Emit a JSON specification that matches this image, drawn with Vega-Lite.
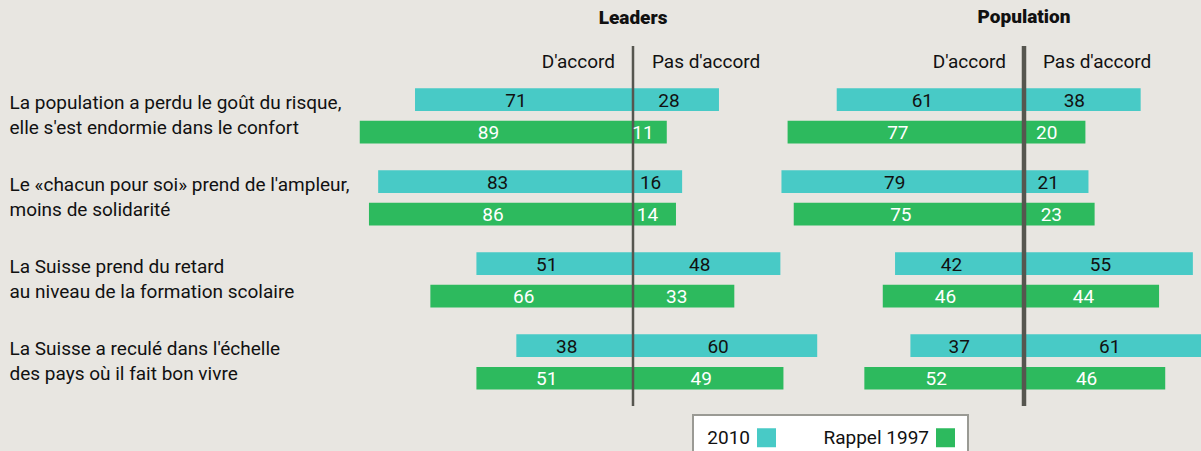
{
  "$schema": "https://vega.github.io/schema/vega-lite/v6.json",
  "background": "#e8e6e1",
  "padding": {"left": 9, "top": 7, "right": 0, "bottom": 0},
  "bounds": "flush",
  "data": {
    "values": [
      {"panel": "Leaders", "question": "La population a perdu le goût du risque,\nelle s'est endormie dans le confort", "serie": "2010", "accord": 71, "pas": 28},
      {"panel": "Leaders", "question": "La population a perdu le goût du risque,\nelle s'est endormie dans le confort", "serie": "Rappel 1997", "accord": 89, "pas": 11},
      {"panel": "Leaders", "question": "Le «chacun pour soi» prend de l'ampleur,\nmoins de solidarité", "serie": "2010", "accord": 83, "pas": 16},
      {"panel": "Leaders", "question": "Le «chacun pour soi» prend de l'ampleur,\nmoins de solidarité", "serie": "Rappel 1997", "accord": 86, "pas": 14},
      {"panel": "Leaders", "question": "La Suisse prend du retard\nau niveau de la formation scolaire", "serie": "2010", "accord": 51, "pas": 48},
      {"panel": "Leaders", "question": "La Suisse prend du retard\nau niveau de la formation scolaire", "serie": "Rappel 1997", "accord": 66, "pas": 33},
      {"panel": "Leaders", "question": "La Suisse a reculé dans l'échelle\ndes pays où il fait bon vivre", "serie": "2010", "accord": 38, "pas": 60},
      {"panel": "Leaders", "question": "La Suisse a reculé dans l'échelle\ndes pays où il fait bon vivre", "serie": "Rappel 1997", "accord": 51, "pas": 49},
      {"panel": "Population", "question": "La population a perdu le goût du risque,\nelle s'est endormie dans le confort", "serie": "2010", "accord": 61, "pas": 38},
      {"panel": "Population", "question": "La population a perdu le goût du risque,\nelle s'est endormie dans le confort", "serie": "Rappel 1997", "accord": 77, "pas": 20},
      {"panel": "Population", "question": "Le «chacun pour soi» prend de l'ampleur,\nmoins de solidarité", "serie": "2010", "accord": 79, "pas": 21},
      {"panel": "Population", "question": "Le «chacun pour soi» prend de l'ampleur,\nmoins de solidarité", "serie": "Rappel 1997", "accord": 75, "pas": 23},
      {"panel": "Population", "question": "La Suisse prend du retard\nau niveau de la formation scolaire", "serie": "2010", "accord": 42, "pas": 55},
      {"panel": "Population", "question": "La Suisse prend du retard\nau niveau de la formation scolaire", "serie": "Rappel 1997", "accord": 46, "pas": 44},
      {"panel": "Population", "question": "La Suisse a reculé dans l'échelle\ndes pays où il fait bon vivre", "serie": "2010", "accord": 37, "pas": 61},
      {"panel": "Population", "question": "La Suisse a reculé dans l'échelle\ndes pays où il fait bon vivre", "serie": "Rappel 1997", "accord": 52, "pas": 46}
    ]
  },
  "spacing": 41,
  "hconcat": [
    {
      "width": 350,
      "height": 360,
      "title": {"text": "Leaders", "frame": "group", "anchor": "middle", "baseline": "alphabetic", "offset": 2, "font": "Roboto", "fontSize": 19, "fontWeight": 900, "color": "#111111"},
      "transform": [{"filter": "datum.panel === 'Leaders'"}],
      "layer": [
        {
          "mark": {"type": "bar"},
          "encoding": {
            "y": {"field": "question", "type": "nominal", "sort": null, "scale": {"paddingInner": 0.326, "paddingOuter": 0.358, "align": 0.72},
                  "axis": {"title": null, "orient": "left", "ticks": false, "domain": false, "labelAlign": "left", "labelBaseline": "middle", "labelPadding": 449, "labelOffset": -12.5, "labelLimit": 500, "labelFont": "Roboto", "labelFontSize": 19, "labelColor": "#111111", "labelLineHeight": 25, "labelExpr": "split(datum.label, '\\n')"}},
            "yOffset": {"field": "serie", "type": "nominal", "scale": {"paddingInner": 0.304, "paddingOuter": 0}},
            "x": {"field": "accord", "type": "quantitative", "stack": "zero", "scale": {"domain": [-57, 57], "reverse": true}, "axis": null},
            "color": {"field": "serie", "type": "nominal", "scale": {"domain": ["2010", "Rappel 1997"], "range": ["#48cac6", "#2dba5e"]},
                      "legend": {"title": null, "orient": "none", "legendX": 235, "legendY": 369, "direction": "horizontal", "symbolType": "square", "symbolSize": 361, "symbolStrokeWidth": 0, "symbolOpacity": 1, "symbolOffset": 51, "labelAlign": "right", "labelOffset": -26, "labelFont": "Roboto", "labelFontSize": 19, "labelColor": "#111111", "columnPadding": 47, "padding": 13, "fillColor": "#ffffff", "strokeColor": "#9a9a94"}}
          }
        },
        {
          "mark": {"type": "bar"},
          "encoding": {
            "y": {"field": "question", "type": "nominal", "sort": null, "scale": {"paddingInner": 0.326, "paddingOuter": 0.358, "align": 0.72},
                  "axis": {"title": null, "orient": "left", "ticks": false, "domain": false, "labelAlign": "left", "labelBaseline": "middle", "labelPadding": 449, "labelOffset": -12.5, "labelLimit": 500, "labelFont": "Roboto", "labelFontSize": 19, "labelColor": "#111111", "labelLineHeight": 25, "labelExpr": "split(datum.label, '\\n')"}},
            "yOffset": {"field": "serie", "type": "nominal", "scale": {"paddingInner": 0.304, "paddingOuter": 0}},
            "x": {"field": "pas", "type": "quantitative", "stack": "zero", "scale": {"domain": [-57, 57]}, "axis": null},
            "color": {"field": "serie", "type": "nominal", "scale": {"domain": ["2010", "Rappel 1997"], "range": ["#48cac6", "#2dba5e"]}}
          }
        },
        {
          "data": {"values": [{}]},
          "mark": {"type": "rule", "color": "#56564f", "strokeWidth": 2.5},
          "encoding": {
            "x": {"datum": 0, "type": "quantitative", "scale": {"domain": [-57, 57]},
                  "axis": {"orient": "top", "values": [-6, 6], "title": null, "ticks": false, "domain": false, "grid": false, "labelPadding": -21, "labelBaseline": "alphabetic", "labelFont": "Roboto", "labelFontSize": 19, "labelColor": "#111111",
                           "labelExpr": "datum.value < 0 ? \"D'accord\" : \"Pas d'accord\"",
                           "labelAlign": {"condition": {"test": "datum.value < 0", "value": "right"}, "value": "left"}}}
          }
        },
        {
          "mark": {"type": "text", "font": "Roboto", "fontSize": 19, "baseline": "middle", "dy": 1, "dx": -8},
          "encoding": {
            "y": {"field": "question", "type": "nominal", "sort": null, "scale": {"paddingInner": 0.326, "paddingOuter": 0.358, "align": 0.72},
                  "axis": {"title": null, "orient": "left", "ticks": false, "domain": false, "labelAlign": "left", "labelBaseline": "middle", "labelPadding": 449, "labelOffset": -12.5, "labelLimit": 500, "labelFont": "Roboto", "labelFontSize": 19, "labelColor": "#111111", "labelLineHeight": 25, "labelExpr": "split(datum.label, '\\n')"}},
            "yOffset": {"field": "serie", "type": "nominal", "scale": {"paddingInner": 0.304, "paddingOuter": 0}},
            "x": {"field": "accord", "type": "quantitative", "stack": "zero", "bandPosition": 0.5, "scale": {"domain": [-57, 57], "reverse": true}, "axis": null},
            "text": {"field": "accord", "type": "quantitative"},
            "color": {"condition": {"test": "datum.serie === '2010'", "value": "#111111"}, "value": "#ffffff"}
          }
        },
        {
          "mark": {"type": "text", "font": "Roboto", "fontSize": 19, "baseline": "middle", "dy": 1, "dx": -7},
          "encoding": {
            "y": {"field": "question", "type": "nominal", "sort": null, "scale": {"paddingInner": 0.326, "paddingOuter": 0.358, "align": 0.72},
                  "axis": {"title": null, "orient": "left", "ticks": false, "domain": false, "labelAlign": "left", "labelBaseline": "middle", "labelPadding": 449, "labelOffset": -12.5, "labelLimit": 500, "labelFont": "Roboto", "labelFontSize": 19, "labelColor": "#111111", "labelLineHeight": 25, "labelExpr": "split(datum.label, '\\n')"}},
            "yOffset": {"field": "serie", "type": "nominal", "scale": {"paddingInner": 0.304, "paddingOuter": 0}},
            "x": {"field": "pas", "type": "quantitative", "stack": "zero", "bandPosition": 0.5, "scale": {"domain": [-57, 57]}, "axis": null},
            "text": {"field": "pas", "type": "quantitative"},
            "color": {"condition": {"test": "datum.serie === '2010'", "value": "#111111"}, "value": "#ffffff"}
          }
        }
      ],
      "resolve": {"scale": {"x": "independent"}}
    },
    {
      "width": 350,
      "height": 360,
      "title": {"text": "Population", "frame": "group", "anchor": "middle", "baseline": "alphabetic", "offset": 2, "font": "Roboto", "fontSize": 19, "fontWeight": 900, "color": "#111111"},
      "transform": [{"filter": "datum.panel === 'Population'"}],
      "layer": [
        {
          "mark": {"type": "bar"},
          "encoding": {
            "y": {"field": "question", "type": "nominal", "sort": null, "scale": {"paddingInner": 0.326, "paddingOuter": 0.358, "align": 0.72}, "axis": null},
            "yOffset": {"field": "serie", "type": "nominal", "scale": {"paddingInner": 0.304, "paddingOuter": 0}},
            "x": {"field": "accord", "type": "quantitative", "stack": "zero", "scale": {"domain": [-57, 57], "reverse": true}, "axis": null},
            "color": {"field": "serie", "type": "nominal", "scale": {"domain": ["2010", "Rappel 1997"], "range": ["#48cac6", "#2dba5e"]}}
          }
        },
        {
          "mark": {"type": "bar"},
          "encoding": {
            "y": {"field": "question", "type": "nominal", "sort": null, "scale": {"paddingInner": 0.326, "paddingOuter": 0.358, "align": 0.72}, "axis": null},
            "yOffset": {"field": "serie", "type": "nominal", "scale": {"paddingInner": 0.304, "paddingOuter": 0}},
            "x": {"field": "pas", "type": "quantitative", "stack": "zero", "scale": {"domain": [-57, 57]}, "axis": null},
            "color": {"field": "serie", "type": "nominal", "scale": {"domain": ["2010", "Rappel 1997"], "range": ["#48cac6", "#2dba5e"]}}
          }
        },
        {
          "data": {"values": [{}]},
          "mark": {"type": "rule", "color": "#56564f", "strokeWidth": 4.5},
          "encoding": {
            "x": {"datum": 0, "type": "quantitative", "scale": {"domain": [-57, 57]},
                  "axis": {"orient": "top", "values": [-6, 6], "title": null, "ticks": false, "domain": false, "grid": false, "labelPadding": -21, "labelBaseline": "alphabetic", "labelFont": "Roboto", "labelFontSize": 19, "labelColor": "#111111",
                           "labelExpr": "datum.value < 0 ? \"D'accord\" : \"Pas d'accord\"",
                           "labelAlign": {"condition": {"test": "datum.value < 0", "value": "right"}, "value": "left"}}}
          }
        },
        {
          "mark": {"type": "text", "font": "Roboto", "fontSize": 19, "baseline": "middle", "dy": 1, "dx": -8},
          "encoding": {
            "y": {"field": "question", "type": "nominal", "sort": null, "scale": {"paddingInner": 0.326, "paddingOuter": 0.358, "align": 0.72}, "axis": null},
            "yOffset": {"field": "serie", "type": "nominal", "scale": {"paddingInner": 0.304, "paddingOuter": 0}},
            "x": {"field": "accord", "type": "quantitative", "stack": "zero", "bandPosition": 0.5, "scale": {"domain": [-57, 57], "reverse": true}, "axis": null},
            "text": {"field": "accord", "type": "quantitative"},
            "color": {"condition": {"test": "datum.serie === '2010'", "value": "#111111"}, "value": "#ffffff"}
          }
        },
        {
          "mark": {"type": "text", "font": "Roboto", "fontSize": 19, "baseline": "middle", "dy": 1, "dx": -8},
          "encoding": {
            "y": {"field": "question", "type": "nominal", "sort": null, "scale": {"paddingInner": 0.326, "paddingOuter": 0.358, "align": 0.72}, "axis": null},
            "yOffset": {"field": "serie", "type": "nominal", "scale": {"paddingInner": 0.304, "paddingOuter": 0}},
            "x": {"field": "pas", "type": "quantitative", "stack": "zero", "bandPosition": 0.5, "scale": {"domain": [-57, 57]}, "axis": null},
            "text": {"field": "pas", "type": "quantitative"},
            "color": {"condition": {"test": "datum.serie === '2010'", "value": "#111111"}, "value": "#ffffff"}
          }
        }
      ],
      "resolve": {"scale": {"x": "independent"}}
    }
  ],
  "config": {
    "view": {"stroke": null},
    "font": "Roboto",
    "legend": {"strokeWidth": 2}
  }
}
